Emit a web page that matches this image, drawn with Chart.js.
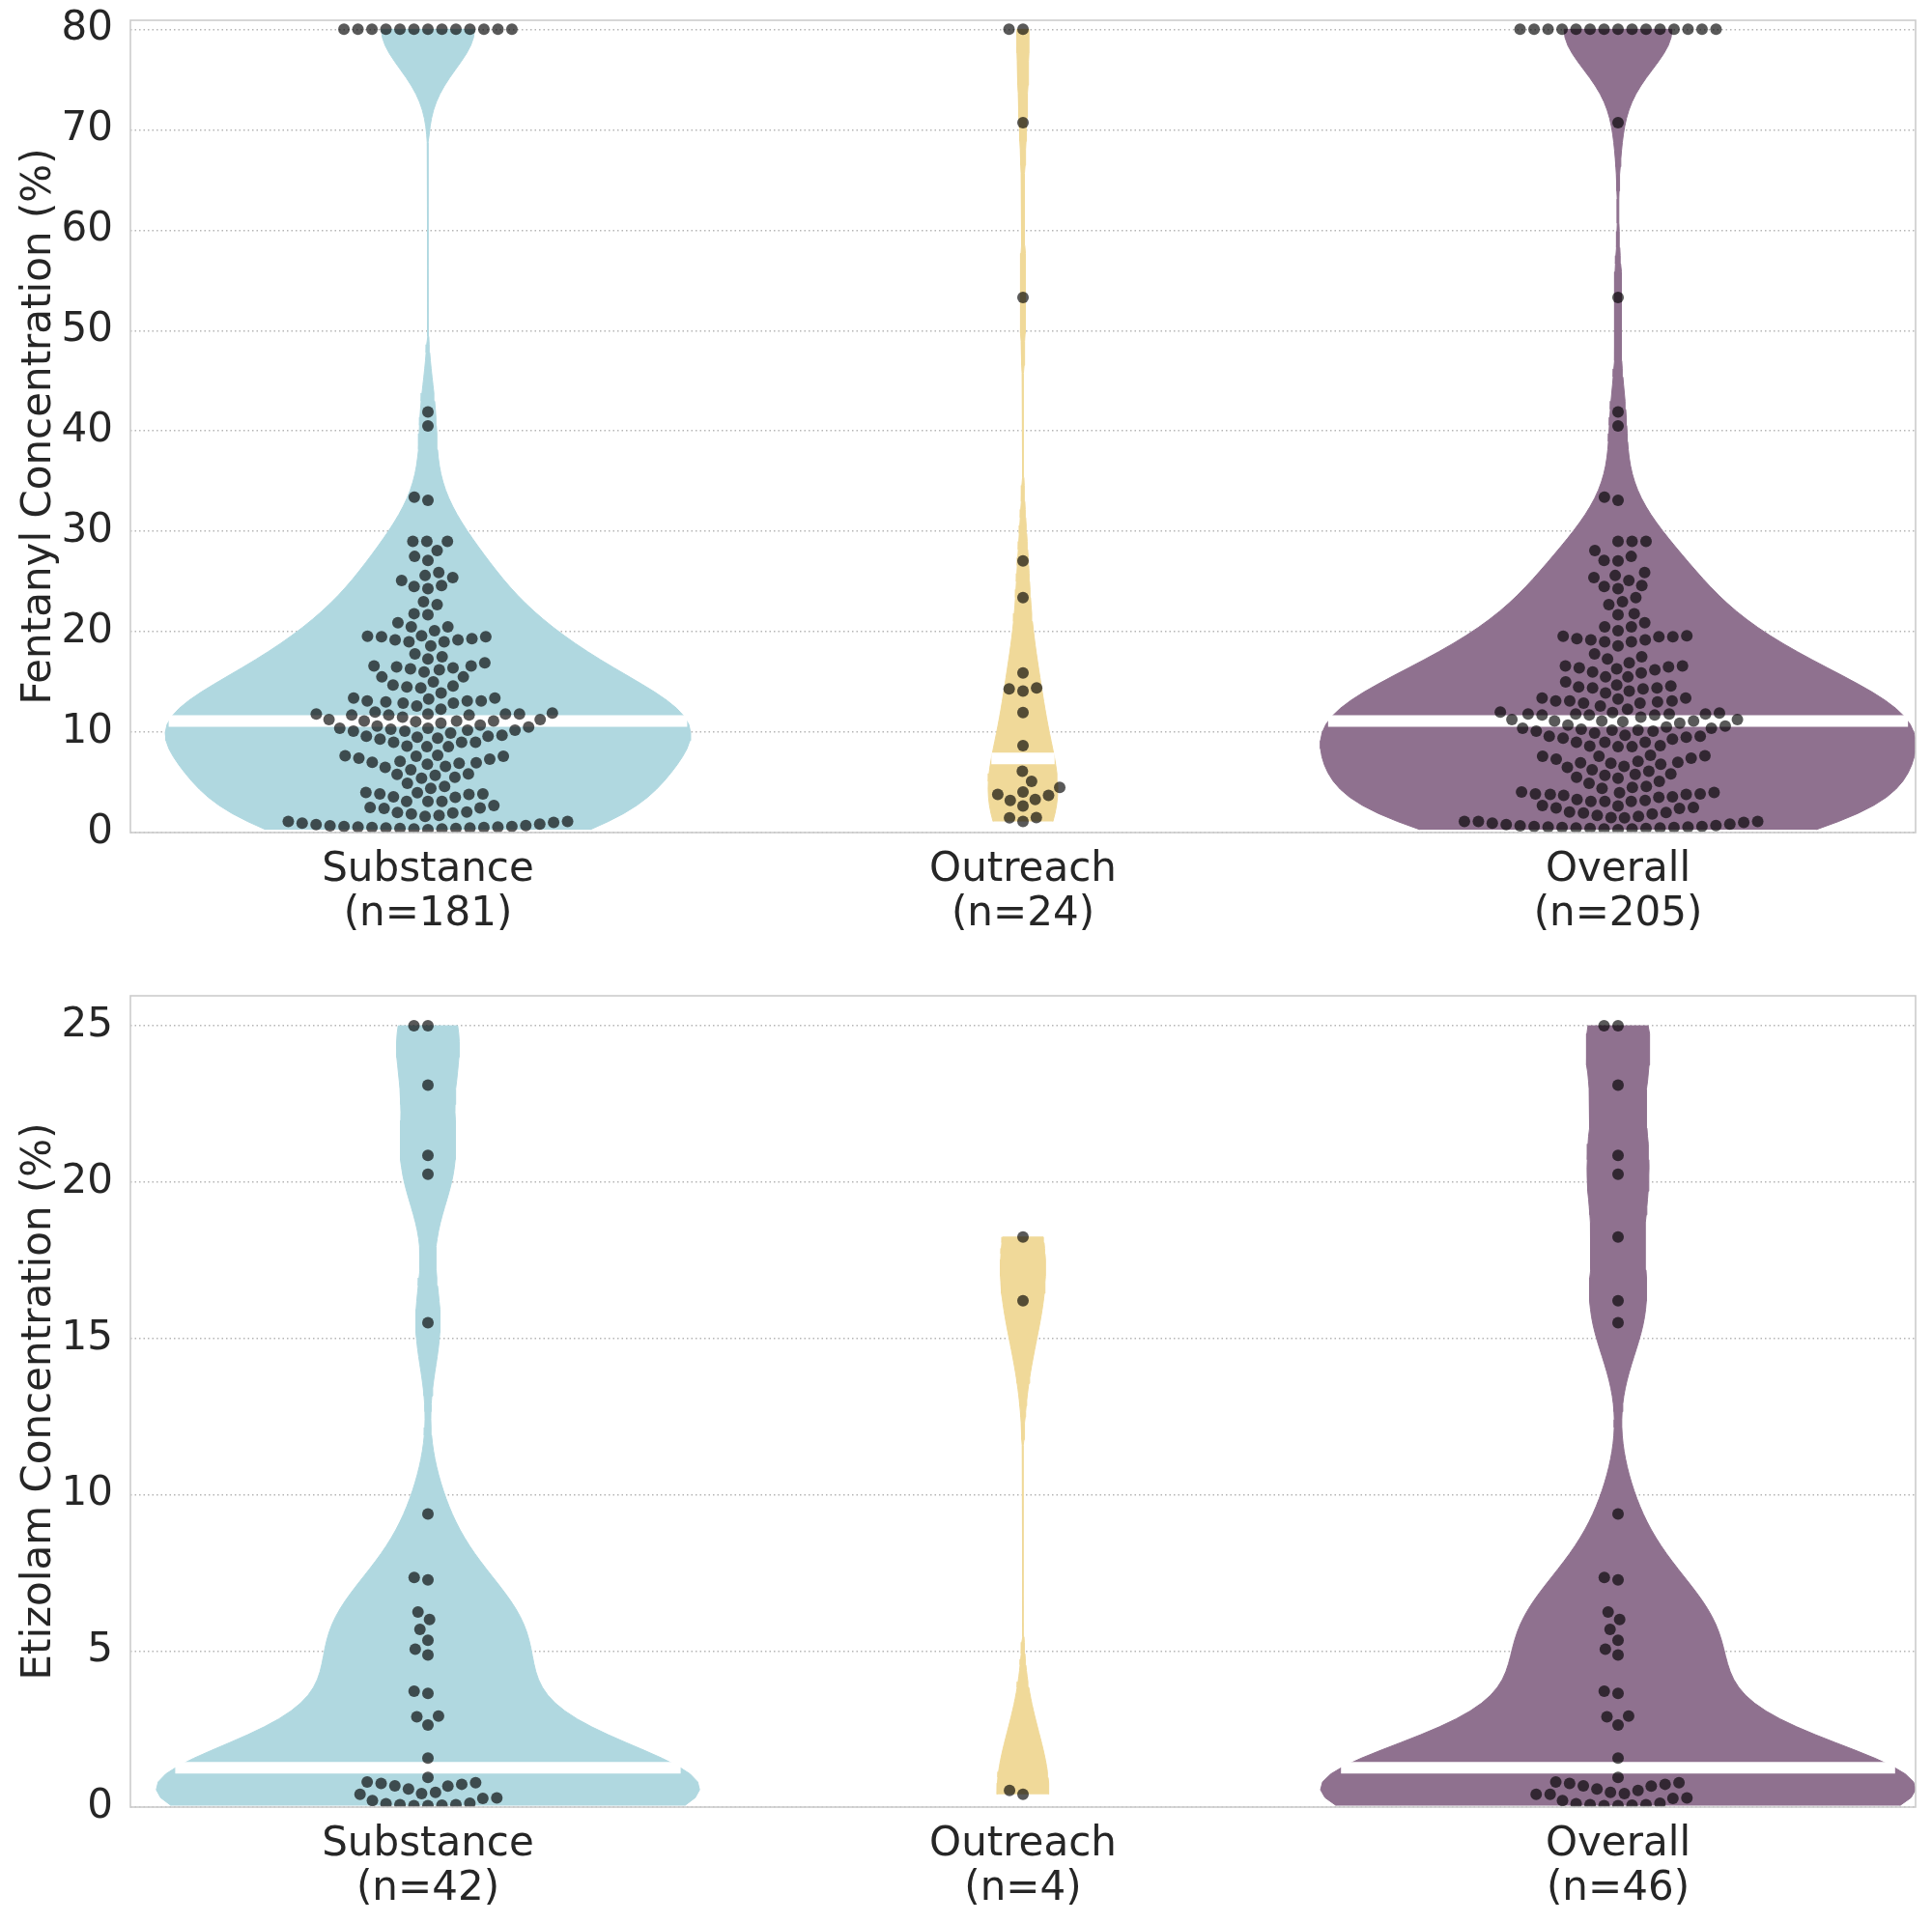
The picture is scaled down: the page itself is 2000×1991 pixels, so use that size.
<!DOCTYPE html>
<html>
<head>
<meta charset="utf-8">
<script src="https://cdn.jsdelivr.net/npm/chart.js@4.4.0/dist/chart.umd.min.js"></script>
<style>
    html, body { margin: 0; padding: 0; background: #ffffff; }
    #wrap { position: relative; width: 2000px; height: 1991px; }
    canvas { position: absolute; left: 0; }
</style>
</head>
<body>
<div id="wrap">
    <canvas id="fentanylChart" width="2000" height="1000" style="top:0"></canvas>
    <canvas id="etizolamChart" width="2000" height="991" style="top:1000px"></canvas>
</div>
<script>
// Categories
const groups = ['Substance', 'Outreach', 'Overall'];

// Fentanyl concentration (%) per sample
const fentanylSubstance = [
    80, 80, 80, 80, 80, 80, 80, 80, 80, 80, 80, 80, 80,
    41.9, 40.5, 33.4, 33.1, 29.0, 29.0, 29.0, 28.1, 27.5, 27.1,
    25.9, 25.6, 25.4, 25.1, 24.6, 24.5, 24.3, 23.0, 22.7, 21.8, 21.7,
    20.9, 20.5, 20.5, 20.1,
    19.6, 19.5, 19.3, 19.2, 19.0, 19.0, 18.6, 19.2, 19.5, 19.55,
    17.8, 17.5, 17.3,
    16.9, 16.6, 16.4, 16.2, 16.0, 16.3, 16.5, 16.6, 15.5, 15.5,
    15.0, 14.7, 14.6, 14.5, 14.4, 13.9,
    13.4, 13.1, 12.3, 13.1, 12.9, 12.6, 12.9, 13.0, 13.1, 13.3, 13.4,
    11.8, 11.7, 12.0, 11.8, 11.5, 11.7, 11.9, 11.7, 11.8, 11.8,
    11.25, 11.1, 10.9, 11.1, 11.25, 11.05, 11.1,
    10.3, 10.2, 10.6, 10.4, 10.1, 9.7, 9.9, 10.1, 10.4, 10.7, 10.2, 10.5,
    9.6, 9.4, 9.0, 9.0, 8.55, 8.55, 8.6, 9.0, 9.3, 9.5, 9.6,
    7.7, 7.3, 7.0, 6.6, 7.6, 6.9, 7.4, 6.5, 6.8, 7.6, 6.25, 6.95, 7.1, 7.65,
    5.8, 5.5, 5.85, 4.9, 5.4, 5.7, 4.4,
    4.0, 3.85, 3.8, 3.1, 3.1, 3.5, 3.55, 3.85, 3.97, 4.6,
    2.7, 2.45, 2.05, 1.95, 1.7, 1.6, 1.85, 2.0, 2.4, 2.5, 3.1,
    1.1, 1.0, 0.84, 0.7, 0.6, 0.55, 0.5, 0.45, 0.4, 0.35, 0.3,
    0.35, 0.4, 0.45, 0.5, 0.55, 0.6, 0.67, 0.8, 0.93, 1.1
];
const fentanylOutreach = [
    80, 80, 70.7, 53.3, 27.05, 23.4, 15.9, 14.3, 14.1, 14.4, 11.95, 8.65,
    6.1, 5.1, 4.5, 4.05, 3.8, 3.2, 3.3, 3.7, 2.65, 1.47, 1.1, 1.5
];

// Etizolam concentration (%) per sample
const etizolamSubstance = [
    25, 25, 23.1, 20.85, 20.25, 15.5, 9.38, 7.35, 7.27, 6.24, 6.0, 5.69,
    5.34, 5.05, 4.87, 3.71, 3.64, 2.89, 2.91, 2.63, 1.57, 0.95,
    0.80, 0.76, 0.68, 0.58, 0.43, 0.41, 0.47, 0.67, 0.73, 0.78,
    0.21, 0.11, 0.08, 0.05, 0.05, 0.06, 0.08, 0.12, 0.28, 0.29
];
const etizolamOutreach = [18.24, 16.2, 0.53, 0.41];

// Gridlines (every 5) and labelled tick step
const fentanylGrid = [0, 5, 10, 15, 20, 25, 30, 35, 40, 45, 50, 55, 60, 65, 70, 75, 80];
const etizolamGrid = [0, 5, 10, 15, 20, 25];

const palette = ['rgb(176,216,224)', 'rgb(240,217,153)', 'rgb(143,113,143)'];
const textColor = '#262626';
const fontFamily = "'DejaVu Sans', sans-serif";
const bwFactor = 0.2;   // kde bandwidth as a fraction of the std

function median(values) {
    const s = [...values].sort((a, b) => a - b);
    const m = Math.floor(s.length / 2);
    return s.length % 2 ? s[m] : (s[m - 1] + s[m]) / 2;
}

// Gaussian KDE
function gaussKde(values) {
    const n = values.length;
    const mean = values.reduce((a, b) => a + b, 0) / n;
    const sd = Math.sqrt(values.reduce((a, b) => a + (b - mean) ** 2, 0) / (n - 1));
    const bw = sd * bwFactor;
    return y => values.reduce((s, v) => s + Math.exp(-0.5 * ((y - v) / bw) ** 2), 0);
}

// Violin outline, cut at data range, width scaled by count
function violinShape(values, pos, nMax) {
    const f = gaussKde(values);
    const lo = Math.min(...values), hi = Math.max(...values);
    const ys = [], ds = [];
    for (let i = 0; i < 100; i++) {
        const y = lo + (hi - lo) * i / 99;
        ys.push(y);
        ds.push(f(y));
    }
    const k = 0.5 * values.length / nMax / Math.max(...ds);
    const right = ys.map((y, i) => ({ x: pos + ds[i] * k, y }));
    const left = ys.map((y, i) => ({ x: pos - ds[i] * k, y })).reverse();
    const med = median(values);
    const hw = f(med) * k;
    return {
        outline: right.concat(left),
        median: [{ x: pos - hw, y: med }, { x: pos + hw, y: med }]
    };
}

// Beeswarm layout in pixel space
function swarm(chart, pos, values) {
    const xs = chart.scales.x, ys = chart.scales.y;
    const cx = xs.getPixelForValue(pos);
    const r = 6.9;
    const pts = values.map(v => ({ v, y: -ys.getPixelForValue(v) })).sort((a, b) => a.y - b.y);
    const placed = [];
    pts.forEach((p, idx) => {
        if (idx === 0) { placed.push({ x: cx, y: p.y, v: p.v }); return; }
        const neighbors = [];
        for (let j = placed.length - 1; j >= 0; j--) {
            if (p.y - placed[j].y < 2 * r) neighbors.push(placed[j]);
            else break;
        }
        const cands = [cx];
        let leftFirst = true;
        neighbors.forEach(nb => {
            const dy = p.y - nb.y;
            const dx = Math.sqrt(Math.max(4 * r * r - dy * dy, 0)) * 1.05;
            if (leftFirst) cands.push(nb.x - dx, nb.x + dx);
            else cands.push(nb.x + dx, nb.x - dx);
            leftFirst = !leftFirst;
        });
        const sorted = cands.map((x, k) => ({ x, k }))
            .sort((a, b) => Math.abs(a.x - cx) - Math.abs(b.x - cx) || a.k - b.k);
        let chosen = sorted[0].x;
        for (const c of sorted) {
            if (neighbors.every(nb => (nb.x - c.x) ** 2 + (nb.y - p.y) ** 2 >= 4 * r * r - 1e-6)) {
                chosen = c.x;
                break;
            }
        }
        placed.push({ x: chosen, y: p.y, v: p.v });
    });
    return placed.map(p => ({ x: xs.getValueForPixel(p.x), y: p.v }));
}

// Light grey frame on all four sides
const frame = {
    id: 'frame',
    afterDraw(chart) {
        const { ctx, chartArea: a } = chart;
        ctx.save();
        ctx.strokeStyle = '#cccccc';
        ctx.lineWidth = 1.6;
        ctx.strokeRect(a.left, a.top, a.right - a.left, a.bottom - a.top);
        ctx.restore();
    }
};

function buildPanel(canvasId, substance, outreach, yMax, grid, labelStep, title, padTop, xHeight) {
    const sets = [substance, outreach, substance.concat(outreach)];
    const nMax = Math.max(...sets.map(s => s.length));
    const datasets = [];

    sets.forEach((vals, i) => {
        const v = violinShape(vals, i, nMax);
        datasets.push({
            data: v.outline, showLine: true, fill: 'shape',
            backgroundColor: palette[i], borderColor: palette[i], borderWidth: 1,
            pointRadius: 0, pointHoverRadius: 0, order: 3
        });
        datasets.push({
            data: v.median, showLine: true, fill: false,
            borderColor: '#ffffff', borderWidth: 12, borderCapStyle: 'butt',
            pointRadius: 0, pointHoverRadius: 0, order: 2
        });
    });
    const pointSets = [];
    sets.forEach((vals, i) => {
        pointSets.push(datasets.length);
        datasets.push({
            data: vals.map(v => ({ x: i, y: v })),
            pointRadius: 6, pointHoverRadius: 6,
            backgroundColor: 'rgba(0,0,0,0.65)', borderWidth: 0, order: 1
        });
    });

    const chart = new Chart(document.getElementById(canvasId), {
        type: 'scatter',
        data: { datasets },
        options: {
            responsive: false,
            animation: false,
            layout: { padding: { top: padTop, right: 17, left: 0, bottom: 0 } },
            plugins: { legend: { display: false }, tooltip: { enabled: false } },
            scales: {
                x: {
                    type: 'linear', min: -0.5, max: 2.5,
                    grid: { display: false },
                    border: { display: false },
                    afterBuildTicks: s => { s.ticks = groups.map((g, i) => ({ value: i })); },
                    afterFit: s => {
                        s.height = xHeight;
                        s.paddingLeft = 0;
                        s.paddingRight = 0;
                    },
                    ticks: {
                        autoSkip: false, maxRotation: 0, padding: 8, color: textColor,
                        font: { family: fontFamily, size: 42, lineHeight: 1.1 },
                        callback: v => [groups[v], '(n=' + sets[v].length + ')']
                    }
                },
                y: {
                    min: 0, max: yMax,
                    afterBuildTicks: s => { s.ticks = grid.map(v => ({ value: v })); },
                    afterFit: s => {
                        s.width = 135;
                        s.paddingTop = 0;
                        s.paddingBottom = 0;
                    },
                    grid: { color: '#b5b5b5', lineWidth: 1.4, drawTicks: false, tickLength: 0 },
                    border: { display: false, dash: [1.5, 3] },
                    ticks: {
                        padding: 18, color: textColor,
                        font: { family: fontFamily, size: 42 },
                        callback: v => (v % labelStep === 0 ? v : '')
                    },
                    title: {
                        display: true, text: title, color: textColor,
                        font: { family: fontFamily, size: 42 },
                        padding: { top: 16, bottom: 0 }
                    }
                }
            }
        },
        plugins: [frame]
    });

    pointSets.forEach((dsIndex, i) => {
        chart.data.datasets[dsIndex].data = swarm(chart, i, sets[i]);
    });
    chart.update('none');
    return chart;
}

buildPanel('fentanylChart', fentanylSubstance, fentanylOutreach, 80.9, fentanylGrid, 10,
    'Fentanyl Concentration (%)', 21, 138);
buildPanel('etizolamChart', etizolamSubstance, etizolamOutreach, 25.96, etizolamGrid, 5,
    'Etizolam Concentration (%)', 31, 120);
</script>
</body>
</html>
